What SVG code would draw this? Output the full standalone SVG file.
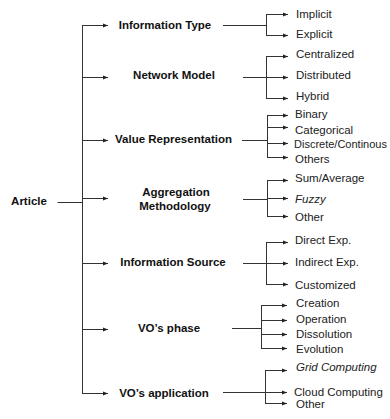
<svg xmlns="http://www.w3.org/2000/svg" width="390" height="419" viewBox="0 0 390 419">
<defs>
<marker id="ah" markerUnits="userSpaceOnUse" markerWidth="6" markerHeight="6" refX="5" refY="3" orient="auto">
<path d="M0,1 L5,3 L0,5 Z" fill="#222"/>
</marker>
<style>
.ln{stroke:#333;stroke-width:1;fill:none}
.ar{stroke:#333;stroke-width:1;fill:none;marker-end:url(#ah)}
.cat{font-family:"Liberation Sans",Arial,sans-serif;font-size:11.5px;font-weight:bold;fill:#111;text-anchor:middle;dominant-baseline:central}
.leaf{font-family:"Liberation Sans",Arial,sans-serif;font-size:11.5px;fill:#222;dominant-baseline:central}
.it{font-style:italic}
</style>
</defs>
<rect width="390" height="419" fill="#fff"/>
<g id="connectors">
<path class="ln" d="M57.5,202.5 H82.5 M82.5,25 V394"/>
<path class="ar" d="M82,25.5 H108"/>
<path class="ar" d="M82,77.5 H108"/>
<path class="ar" d="M82,140.5 H108"/>
<path class="ar" d="M82,198.5 H108"/>
<path class="ar" d="M82,263.5 H108"/>
<path class="ar" d="M82,329.5 H108"/>
<path class="ar" d="M82,393.5 H108"/>
<path class="ln" d="M223,25.5 H266.5 M266.5,14 V35"/>
<path class="ar" d="M266,14.5 H288"/>
<path class="ar" d="M266,35.5 H288"/>
<path class="ln" d="M266.5,56 V98"/>
<path class="ar" d="M243,77.5 H288"/>
<path class="ar" d="M266,56.5 H288"/>
<path class="ar" d="M266,98.5 H288"/>
<path class="ln" d="M242,140.5 H267.5 M267.5,115 V157"/>
<path class="ar" d="M267,115.5 H288"/>
<path class="ar" d="M267,127.5 H288"/>
<path class="ar" d="M267,143.5 H288"/>
<path class="ar" d="M267,157.5 H288"/>
<path class="ln" d="M243,199.5 H267.5 M267.5,180 V216"/>
<path class="ar" d="M267,180.5 H288"/>
<path class="ar" d="M267,198.5 H288"/>
<path class="ar" d="M267,216.5 H288"/>
<path class="ln" d="M266.5,242 V284"/>
<path class="ar" d="M243,263.5 H288"/>
<path class="ar" d="M266,242.5 H288"/>
<path class="ar" d="M266,284.5 H288"/>
<path class="ln" d="M232,328.5 H261.5 M261.5,305 V348"/>
<path class="ar" d="M261,305.5 H287"/>
<path class="ar" d="M261,320.5 H287"/>
<path class="ar" d="M261,334.5 H287"/>
<path class="ar" d="M261,348.5 H287"/>
<path class="ln" d="M265.5,370 V403"/>
<path class="ar" d="M223,392.5 H287"/>
<path class="ar" d="M265,370.5 H287"/>
<path class="ar" d="M265,403.5 H287"/>
</g>
<g id="article"><text class="cat" x="29" y="201">Article</text></g>
<g id="information-type"><text class="cat" x="165" y="25">Information Type</text></g>
<g id="network-model"><text class="cat" x="174" y="75">Network Model</text></g>
<g id="value-representation"><text class="cat" x="173.5" y="139">Value Representation</text></g>
<g id="aggregation-methodology"><text class="cat" x="176" y="192">Aggregation</text><text class="cat" x="175" y="206">Methodology</text></g>
<g id="information-source"><text class="cat" x="173" y="262">Information Source</text></g>
<g id="vos-phase"><text class="cat" x="169" y="328">VO’s phase</text></g>
<g id="vos-application"><text class="cat" x="164" y="393">VO’s application</text></g>
<g id="implicit"><text class="leaf" x="296" y="14">Implicit</text></g>
<g id="explicit"><text class="leaf" x="296" y="34">Explicit</text></g>
<g id="centralized"><text class="leaf" x="296" y="54">Centralized</text></g>
<g id="distributed"><text class="leaf" x="296" y="75">Distributed</text></g>
<g id="hybrid"><text class="leaf" x="296" y="96">Hybrid</text></g>
<g id="binary"><text class="leaf" x="295" y="114">Binary</text></g>
<g id="categorical"><text class="leaf" x="295" y="130">Categorical</text></g>
<g id="discrete"><text class="leaf" x="294" y="144" style="font-size:11px">Discrete/Continous</text></g>
<g id="others"><text class="leaf" x="295" y="159">Others</text></g>
<g id="sum-average"><text class="leaf" x="295" y="178">Sum/Average</text></g>
<g id="fuzzy"><text class="leaf it" x="295" y="199">Fuzzy</text></g>
<g id="other-agg"><text class="leaf" x="295" y="217">Other</text></g>
<g id="direct"><text class="leaf" x="295" y="240">Direct Exp.</text></g>
<g id="indirect"><text class="leaf" x="295" y="262">Indirect Exp.</text></g>
<g id="customized"><text class="leaf" x="295" y="285">Customized</text></g>
<g id="creation"><text class="leaf" x="296" y="303">Creation</text></g>
<g id="operation"><text class="leaf" x="296" y="319">Operation</text></g>
<g id="dissolution"><text class="leaf" x="296" y="334">Dissolution</text></g>
<g id="evolution"><text class="leaf" x="296" y="349">Evolution</text></g>
<g id="grid"><text class="leaf it" x="296" y="367">Grid Computing</text></g>
<g id="cloud"><text class="leaf" x="294" y="392">Cloud Computing</text></g>
<g id="other-app"><text class="leaf" x="296" y="404">Other</text></g>
</svg>
